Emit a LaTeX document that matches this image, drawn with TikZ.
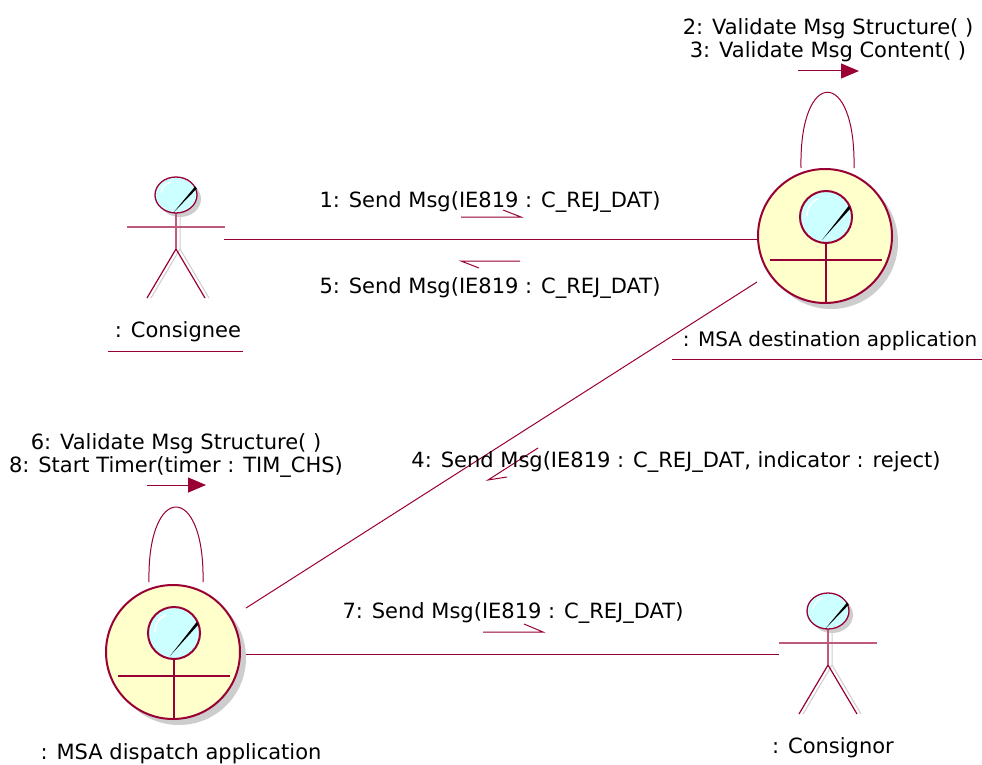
\documentclass[tikz,border=0pt]{standalone}
\usepackage{fontspec}
\setmainfont{DejaVu Sans}
\usetikzlibrary{arrows.meta}
\definecolor{mr}{RGB}{153,0,51}
\definecolor{mrl}{RGB}{190,90,125}
\definecolor{cy}{RGB}{204,255,255}
\definecolor{yl}{RGB}{255,255,204}
\definecolor{sh}{RGB}{205,205,205}
\tikzset{
  lbl/.style={inner sep=0pt, anchor=base, text=black, font=\fontsize{21}{24}\selectfont},
  conn/.style={draw=mr, line width=1pt},
  halfarrow/.style={draw=mr, line width=1pt},
  selfarrow/.style={draw=mr, line width=1pt, -{Triangle[length=18pt,width=15pt]}},
  uline/.style={draw=mr, line width=1pt},
  actor/.pic={
    \fill[sh] (4,4) ellipse[x radius=21, y radius=18];
    \draw[sh, line width=1pt] (4,18) -- (4,54) -- (-25,103);
    \draw[sh, line width=1pt] (4,54) -- (33,103);
    \draw[mr, line width=1.2pt] (-29,103) -- (0,54) -- (29,103);
    \draw[mrl, line width=1.6pt] (0,18) -- (0,54);
    \draw[mrl, line width=1.6pt] (-49,32) -- (49,32);
    \filldraw[fill=cy, draw=mr, line width=1.3pt] (0,0) ellipse[x radius=21, y radius=18];
    \draw[white, line width=1.2pt] (-15,-2) to[bend left=35] (-5,-13);
    \fill[black] (-3,18) -- (19.2,-8.6) -- (20.8,-6.4) -- cycle;
  },
  ctl/.pic={
    \fill[sh] (6,6) circle[radius=67];
    \filldraw[fill=yl, draw=mr, line width=2pt] (0,0) circle[radius=67];
    \draw[mr, line width=2pt] (-55,24) -- (57,24);
    \draw[mr, line width=2pt] (1,7) -- (1,67);
    \filldraw[fill=cy, draw=mr, line width=2pt] (1,-19) circle[radius=26];
    \draw[white, line width=1.5pt] (-18,-20) to[bend left=35] (-7,-37);
    \fill[black] (-3,4) -- (23.5,-29.8) -- (25.5,-27.6) -- cycle;
  },
}
\begin{document}
\begin{tikzpicture}[x=1pt, y=-1pt]
\useasboundingbox (0,0) rectangle (982,765);
\fill[white] (0,0) rectangle (982,765);

% objects
\pic (consignee) at (176,195) {actor};
\pic (consignor) at (828,611) {actor};
\pic (dest) at (825,236) {ctl};
\pic (disp) at (173,652) {ctl};

% connector end points
\coordinate (ceR) at (224,239);
\coordinate (deL) at (758,239);
\coordinate (deLL) at (757,282);
\coordinate (diUR) at (246,608);
\coordinate (diR) at (246,654);
\coordinate (coL) at (779,654);
\coordinate (deLoopA) at (801,168);
\coordinate (deLoopB) at (854,168);
\coordinate (diLoopA) at (149,582);
\coordinate (diLoopB) at (203,582);

% connectors
\draw[conn] (ceR) -- (deL);
\draw[conn] (deLL) -- (diUR);
\draw[conn] (diR) -- (coL);
\draw[conn] (deLoopA) .. controls (799,67) and (856,67) .. (deLoopB);
\draw[conn] (diLoopA) .. controls (147,482) and (205,482) .. (diLoopB);

% message direction arrows
\coordinate (a1s) at (461,217); \coordinate (a1e) at (521,217); \coordinate (a1h) at (503,210);
\draw[halfarrow] (a1s) -- (a1e) -- (a1h);
\coordinate (a5s) at (520,261); \coordinate (a5e) at (461,261); \coordinate (a5h) at (479,268);
\draw[halfarrow] (a5s) -- (a5e) -- (a5h);
\coordinate (a4s) at (538,448); \coordinate (a4e) at (488,480); \coordinate (a4h) at (507,477);
\draw[halfarrow] (a4s) -- (a4e) -- (a4h);
\coordinate (a7s) at (483,632); \coordinate (a7e) at (543,632); \coordinate (a7h) at (524,624);
\draw[halfarrow] (a7s) -- (a7e) -- (a7h);
\coordinate (sa1s) at (798,71); \coordinate (sa1e) at (859,71);
\draw[selfarrow] (sa1s) -- (sa1e);
\coordinate (sa2s) at (147,485); \coordinate (sa2e) at (206,485);
\draw[selfarrow] (sa2s) -- (sa2e);

% labels
\node[lbl] (m1) at (490,207) {1: Send Msg(IE819 : C\_REJ\_DAT)};
\node[lbl] (m5) at (490,293) {5: Send Msg(IE819 : C\_REJ\_DAT)};
\node[lbl] (m2) at (828,35) {2: Validate Msg Structure( )};
\node[lbl] (m3) at (828,58) {3: Validate Msg Content( )};
\node[lbl] (m4) at (676,467) {4: Send Msg(IE819 : C\_REJ\_DAT, indicator : reject)};
\node[lbl] (m6) at (176,449) {6: Validate Msg Structure( )};
\node[lbl] (m8) at (176,472) {8: Start Timer(timer : TIM\_CHS)};
\node[lbl] (m7) at (513,618) {7: Send Msg(IE819 : C\_REJ\_DAT)};

\node[lbl] (nConsignee) at (178,337) {: Consignee};
\node[lbl, font=\fontsize{20}{24}\selectfont] (nDest) at (830,346) {: MSA destination application};
\node[lbl] (nDisp) at (181,759) {: MSA dispatch application};
\node[lbl] (nConsignor) at (833,753) {: Consignor};

\coordinate (u1a) at (108,351); \coordinate (u1b) at (243,351);
\draw[uline] (u1a) -- (u1b);
\coordinate (u2a) at (672,359); \coordinate (u2b) at (982,359);
\draw[uline] (u2a) -- (u2b);
\end{tikzpicture}
\end{document}
